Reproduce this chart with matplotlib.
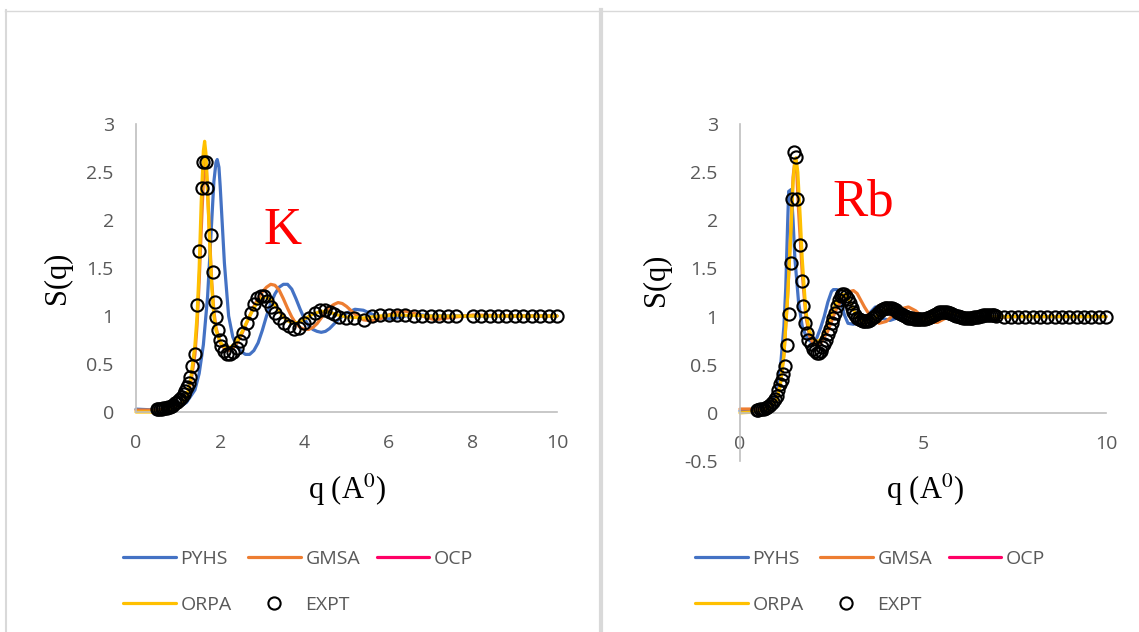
import matplotlib.pyplot as plt
from matplotlib.lines import Line2D
from matplotlib.ticker import FormatStrFormatter

plt.rcParams['font.family'] = ['Open Sans', 'DejaVu Sans']
plt.rcParams['mathtext.fontset'] = 'stix'

# ---- K panel data ----
k_pyhs_q = [0, 0.5, 1.0, 1.2, 1.4, 1.5, 1.6, 1.7, 1.75, 1.8, 1.85, 1.9, 1.93, 1.97, 2.0, 2.05,
            2.1, 2.2, 2.3, 2.4, 2.5, 2.6, 2.7, 2.8, 2.9, 3.0, 3.1, 3.2, 3.3, 3.4, 3.5, 3.6,
            3.7, 3.8, 3.9, 4.0, 4.1, 4.2, 4.3, 4.4, 4.5, 4.6, 4.8, 5.0, 5.2, 5.4, 5.6, 5.8,
            6.0, 6.2, 6.4, 6.6, 7.0, 8.0, 9.0, 10.0]
k_pyhs_s = [0.03, 0.02, 0.04, 0.1, 0.23, 0.4, 0.7, 1.2, 1.6, 2.0, 2.4, 2.6, 2.63, 2.55, 2.35, 1.95,
            1.55, 1.0, 0.78, 0.68, 0.63, 0.6, 0.6, 0.64, 0.72, 0.85, 1.0, 1.13, 1.23, 1.3, 1.33, 1.33,
            1.28, 1.18, 1.07, 0.97, 0.9, 0.86, 0.84, 0.83, 0.84, 0.87, 0.96, 1.03, 1.07, 1.06, 1.02, 0.98,
            0.97, 0.98, 1.0, 1.02, 1.0, 1.0, 1.0, 1.0]

k_gmsa_q = [0, 0.5, 1.0, 1.2, 1.3, 1.4, 1.45, 1.5, 1.55, 1.6, 1.63, 1.67, 1.7, 1.75, 1.8, 1.85,
            1.9, 2.0, 2.1, 2.2, 2.3, 2.4, 2.5, 2.6, 2.7, 2.8, 2.9, 3.0, 3.1, 3.2, 3.3, 3.4,
            3.5, 3.6, 3.7, 3.8, 3.9, 4.0, 4.1, 4.2, 4.3, 4.4, 4.5, 4.6, 4.7, 4.8, 4.9, 5.0,
            5.2, 5.4, 5.6, 5.8, 6.0, 6.2, 6.4, 6.6, 6.8, 7.1, 7.4, 8.0, 9.0, 10.0]
k_gmsa_s = [0.02, 0.02, 0.05, 0.15, 0.3, 0.6, 0.9, 1.35, 1.9, 2.4, 2.62, 2.55, 2.3, 1.8, 1.35, 1.05,
            0.88, 0.72, 0.66, 0.64, 0.66, 0.72, 0.8, 0.9, 1.0, 1.1, 1.18, 1.25, 1.3, 1.33, 1.32, 1.27,
            1.18, 1.08, 0.99, 0.92, 0.88, 0.86, 0.86, 0.88, 0.92, 0.98, 1.04, 1.09, 1.12, 1.14, 1.13, 1.1,
            1.02, 0.96, 0.95, 0.97, 1.01, 1.04, 1.05, 1.03, 1.0, 0.96, 0.98, 1.01, 1.0, 1.0]

k_ocp_q = []
k_ocp_s = []

k_orpa_q = [0, 0.5, 1.0, 1.2, 1.3, 1.4, 1.45, 1.5, 1.55, 1.6, 1.63, 1.66, 1.7, 1.75, 1.8, 1.85,
            1.9, 2.0, 2.1, 2.2, 2.3, 2.4, 2.5, 2.6, 2.7, 2.8, 2.9, 3.0, 3.1, 3.2, 3.3, 3.4,
            3.5, 3.6, 3.7, 3.8, 3.9, 4.0, 4.2, 4.4, 4.6, 4.8, 5.0, 5.4, 5.8, 6.2, 7.0, 8.0, 10.0]
k_orpa_s = [0.0, 0.0, 0.04, 0.15, 0.35, 0.7, 1.0, 1.5, 2.2, 2.72, 2.82, 2.7, 2.3, 1.75, 1.3, 1.0,
            0.85, 0.73, 0.68, 0.67, 0.69, 0.74, 0.82, 0.91, 1.0, 1.08, 1.15, 1.19, 1.2, 1.17, 1.11, 1.05,
            0.99, 0.95, 0.93, 0.93, 0.94, 0.97, 1.02, 1.05, 1.04, 1.01, 0.99, 0.98, 1.0, 1.01, 1.0, 1.0, 1.0]

k_expt_q = [0.49, 0.53, 0.57, 0.61, 0.65, 0.69, 0.73, 0.77, 0.81, 0.85, 0.89, 0.93, 0.97, 1.01,
            1.05, 1.09, 1.13, 1.17, 1.21, 1.25, 1.29, 1.34, 1.40, 1.45, 1.50, 1.56, 1.60, 1.66,
            1.69, 1.77, 1.83, 1.87, 1.91, 1.95, 1.99, 2.03, 2.09, 2.15, 2.23, 2.31, 2.39, 2.47,
            2.55, 2.64, 2.72, 2.80, 2.88, 2.96, 3.04, 3.12, 3.20, 3.30, 3.40, 3.52, 3.64, 3.76,
            3.88, 4.00, 4.12, 4.24, 4.36, 4.48, 4.60, 4.71, 4.83, 4.99, 5.19, 5.42, 5.6, 5.8,
            6.0, 6.2, 6.4, 6.6, 6.8, 7.0, 7.2, 7.4, 7.6, 8.0, 8.2, 8.4, 8.6, 8.8, 9.0, 9.2,
            9.4, 9.6, 9.8, 10.0]
k_expt_s = [0.03, 0.03, 0.03, 0.035, 0.04, 0.04, 0.045, 0.05, 0.055, 0.065, 0.075, 0.09, 0.1, 0.12,
            0.14, 0.16, 0.19, 0.22, 0.26, 0.3, 0.36, 0.48, 0.60, 1.11, 1.68, 2.33, 2.60, 2.60,
            2.33, 1.84, 1.46, 1.15, 0.99, 0.85, 0.75, 0.69, 0.64, 0.60, 0.60, 0.62, 0.67, 0.74,
            0.82, 0.93, 1.03, 1.13, 1.19, 1.21, 1.21, 1.16, 1.09, 1.03, 0.98, 0.93, 0.90, 0.86,
            0.88, 0.93, 0.98, 1.03, 1.06, 1.06, 1.04, 1.02, 0.99, 0.98, 0.98, 0.96, 1.0, 1.01,
            1.01, 1.01, 1.01, 1.0, 1.0, 1.0, 1.0, 1.0, 1.0, 1.0, 1.0, 1.0, 1.0, 1.0, 1.0, 1.0,
            1.0, 1.0, 1.0, 1.0]

# ---- Rb panel data ----
rb_pyhs_q = [0, 0.5, 0.8, 1.0, 1.1, 1.2, 1.25, 1.3, 1.33, 1.4, 1.45, 1.5, 1.6, 1.7, 1.8, 1.9,
             2.0, 2.1, 2.2, 2.3, 2.4, 2.5, 2.55, 2.65, 2.75, 2.85, 2.95, 3.1, 3.3, 3.5, 3.7, 3.8,
             3.9, 4.1, 4.4, 4.8, 5.2, 5.6, 6.0, 7.0, 8.0, 10.0]
rb_pyhs_s = [0.02, 0.02, 0.05, 0.2, 0.45, 0.9, 1.3, 1.95, 2.3, 2.32, 2.0, 1.6, 1.15, 0.9, 0.8, 0.75,
             0.73, 0.78, 0.88, 1.0, 1.15, 1.26, 1.28, 1.28, 1.18, 1.02, 0.93, 0.92, 0.95, 1.02, 1.1, 1.05,
             0.98, 0.96, 1.0, 1.03, 0.99, 0.99, 1.01, 1.0, 1.0, 1.0]

rb_gmsa_q = [0, 0.5, 0.8, 1.0, 1.1, 1.2, 1.3, 1.4, 1.45, 1.5, 1.55, 1.6, 1.7, 1.8, 1.9, 2.0,
             2.1, 2.2, 2.4, 2.6, 2.8, 3.0, 3.1, 3.2, 3.4, 3.6, 3.8, 4.0, 4.2, 4.4, 4.6, 4.8,
             5.0, 5.2, 5.4, 5.6, 5.8, 6.0, 6.3, 6.6, 7.0, 7.5, 10.0]
rb_gmsa_s = [0.04, 0.04, 0.06, 0.15, 0.3, 0.6, 1.2, 2.0, 2.45, 2.62, 2.5, 2.1, 1.45, 1.0, 0.8, 0.72,
             0.7, 0.72, 0.85, 1.05, 1.2, 1.26, 1.27, 1.24, 1.1, 0.98, 0.93, 0.95, 1.02, 1.08, 1.1, 1.06,
             0.99, 0.94, 0.94, 0.98, 1.03, 1.05, 1.02, 0.98, 0.99, 1.0, 1.0]

rb_ocp_q = []
rb_ocp_s = []

rb_orpa_q = [0, 0.5, 0.8, 1.0, 1.1, 1.2, 1.3, 1.4, 1.45, 1.5, 1.53, 1.58, 1.65, 1.7, 1.8, 1.9,
             2.0, 2.1, 2.2, 2.3, 2.4, 2.5, 2.6, 2.7, 2.8, 2.9, 3.0, 3.1, 3.2, 3.3, 3.4, 3.5,
             3.7, 3.9, 4.1, 4.3, 4.5, 4.7, 4.9, 5.1, 5.4, 5.7, 6.0, 6.4, 7.0, 8.0, 10.0]
rb_orpa_s = [0.0, 0.01, 0.04, 0.13, 0.28, 0.6, 1.2, 1.95, 2.4, 2.62, 2.65, 2.5, 2.0, 1.6, 1.05, 0.85,
             0.77, 0.74, 0.76, 0.83, 0.93, 1.03, 1.12, 1.19, 1.23, 1.22, 1.16, 1.07, 1.0, 0.95, 0.93, 0.94,
             0.99, 1.06, 1.09, 1.07, 1.02, 0.98, 0.96, 0.98, 1.02, 1.04, 1.02, 0.99, 1.0, 1.0, 1.0]

rb_expt_q = [0.46, 0.5, 0.55, 0.6, 0.65, 0.7, 0.75, 0.8, 0.85, 0.9, 0.95, 1.0, 1.05, 1.1, 1.14,
             1.18, 1.23, 1.29, 1.33, 1.38, 1.43, 1.48, 1.53, 1.57, 1.63, 1.69, 1.73, 1.77, 1.82,
             1.87, 1.93,
             2.0, 2.05, 2.1, 2.15, 2.2, 2.25, 2.3, 2.35, 2.4, 2.45, 2.5, 2.55, 2.6, 2.65, 2.7,
             2.75, 2.8, 2.85, 2.9, 2.95,
             3.0, 3.05, 3.1, 3.15, 3.2, 3.25, 3.3, 3.35, 3.4, 3.45, 3.5, 3.55, 3.6, 3.65, 3.7,
             3.75, 3.8, 3.85, 3.9, 3.95, 4.0, 4.05, 4.1, 4.15, 4.2, 4.25, 4.3, 4.35, 4.4, 4.45,
             4.5, 4.55, 4.6, 4.65, 4.7, 4.75, 4.8, 4.85, 4.9, 4.95, 5.0, 5.05, 5.1, 5.15, 5.2,
             5.25, 5.3, 5.35, 5.4, 5.45, 5.5, 5.55, 5.6, 5.65, 5.7, 5.75, 5.8, 5.85, 5.9, 5.95,
             6.0, 6.05, 6.1, 6.15, 6.2, 6.25, 6.3, 6.35, 6.4, 6.45, 6.5, 6.55, 6.6, 6.65, 6.7,
             6.75, 6.8, 6.85, 6.9, 6.95, 7.0,
             7.2, 7.4, 7.6, 7.8, 8.0, 8.2, 8.4, 8.6, 8.8, 9.0, 9.2, 9.4, 9.6, 9.8, 10.0]
rb_expt_s = [0.03, 0.03, 0.035, 0.04, 0.04, 0.05, 0.06, 0.07, 0.09, 0.11, 0.14, 0.18, 0.24, 0.3, 0.34,
             0.4, 0.49, 0.70, 1.03, 1.56, 2.22, 2.71, 2.66, 2.22, 1.74, 1.37, 1.11, 0.93, 0.83,
             0.76, 0.71,
             0.66, 0.64, 0.62, 0.62, 0.64, 0.68, 0.72, 0.76, 0.82, 0.87, 0.93, 0.99, 1.04, 1.11, 1.17,
             1.21, 1.23, 1.23, 1.21, 1.18,
             1.14, 1.09, 1.05, 1.02, 0.99, 0.97, 0.96, 0.955, 0.95, 0.95, 0.955, 0.965, 0.98, 0.995, 1.01,
             1.03, 1.05, 1.065, 1.08, 1.085, 1.09, 1.09, 1.09, 1.085, 1.08, 1.065, 1.05, 1.04, 1.03, 1.02,
             1.01, 1.0, 0.99, 0.985, 0.98, 0.975, 0.97, 0.97, 0.97, 0.97, 0.97, 0.975, 0.98, 0.99, 1.0,
             1.01, 1.02, 1.03, 1.04, 1.045, 1.05, 1.05, 1.05, 1.045, 1.04, 1.035, 1.03, 1.02, 1.01, 1.005,
             1.0, 0.995, 0.99, 0.99, 0.99, 0.99, 0.99, 0.99, 0.995, 0.998, 1.0, 1.005, 1.01, 1.012, 1.015,
             1.018, 1.02, 1.018, 1.015, 1.012, 1.01,
             1.0, 1.0, 1.0, 1.0, 1.0, 1.0, 1.0, 1.0, 1.0, 1.0, 1.0, 1.0, 1.0, 1.0, 1.0]

BLUE = '#4472C4'
ORANGE = '#ED7D31'
PINK = '#FF0066'
YELLOW = '#FFC000'
GREY = '#595959'

W, H = 1139, 632
fig = plt.figure(figsize=(W / 100, H / 100), dpi=100)


def px_axes(x0, x1, y_top, y_bot):
    return fig.add_axes([x0 / W, 1 - y_bot / H, (x1 - x0) / W, (y_bot - y_top) / H])


def draw_panel(ax, series, expt_q, expt_s):
    handles = []
    for q, s, c in series:
        h, = ax.plot(q, s, color=c, lw=2.3, clip_on=False, solid_capstyle='round')
        handles.append(h)
    h, = ax.plot(expt_q, expt_s, ls='none', marker='o', ms=8.8, mfc='none', mec='black',
                 mew=1.5, clip_on=False, zorder=5)
    handles.append(h)
    for side in ['top', 'right']:
        ax.spines[side].set_visible(False)
    for side in ['left', 'bottom']:
        ax.spines[side].set_color('#BFBFBF')
        ax.spines[side].set_linewidth(1.2)
    ax.tick_params(length=0, labelsize=14, labelcolor=GREY)
    ax.tick_params(axis='x', pad=16)
    ax.tick_params(axis='y', pad=16)
    ax.yaxis.set_major_formatter(FormatStrFormatter('%g'))
    ax.xaxis.set_major_formatter(FormatStrFormatter('%g'))
    return handles


def add_legend(ax, handles, x_left):
    p, g, o, r, e = handles
    ax.legend([p, r, g, e, o], ['PYHS', 'ORPA', 'GMSA', 'EXPT', 'OCP'], ncol=3,
              frameon=False, fontsize=14, labelcolor=GREY, handlelength=2.7,
              handletextpad=0.25, columnspacing=0.85, labelspacing=1.42,
              loc='upper left', bbox_to_anchor=(x_left / W, 1 - 550 / H),
              bbox_transform=fig.transFigure, borderpad=0, borderaxespad=0)


# left panel: K
ax1 = px_axes(136, 557, 124, 412)
h1 = draw_panel(ax1, [(k_pyhs_q, k_pyhs_s, BLUE), (k_gmsa_q, k_gmsa_s, ORANGE),
                      (k_ocp_q, k_ocp_s, PINK), (k_orpa_q, k_orpa_s, YELLOW)],
                k_expt_q, k_expt_s)
ax1.set_xlim(0, 10)
ax1.set_ylim(0, 3)
ax1.set_xticks([0, 2, 4, 6, 8, 10])
ax1.set_yticks([0, 0.5, 1, 1.5, 2, 2.5, 3])
add_legend(ax1, h1, 123)

# right panel: Rb
ax2 = px_axes(740, 1106, 124, 461)
h2 = draw_panel(ax2, [(rb_pyhs_q, rb_pyhs_s, BLUE), (rb_gmsa_q, rb_gmsa_s, ORANGE),
                      (rb_ocp_q, rb_ocp_s, PINK), (rb_orpa_q, rb_orpa_s, YELLOW)],
                rb_expt_q, rb_expt_s)
ax2.set_xlim(0, 10)
ax2.set_ylim(-0.5, 3)
ax2.spines['bottom'].set_position(('data', 0))
ax2.set_xticks([0, 5, 10])
ax2.set_yticks([-0.5, 0, 0.5, 1, 1.5, 2, 2.5, 3])
add_legend(ax2, h2, 695)

# axis titles and element labels
serif = ['Liberation Serif', 'DejaVu Serif']
for x, y in [(57, 278), (656, 280)]:
    fig.text(x / W, 1 - y / H, 'S(q)', family=serif, fontsize=22, rotation=90,
             ha='center', va='center')
for x in [347, 925]:
    fig.text(x / W, 1 - 490 / H, r'q (A$^0$)', family=serif, fontsize=22,
             ha='center', va='center')
fig.text(283 / W, 1 - 231 / H, 'K', family=serif, fontsize=38, color='red',
         ha='center', va='center')
fig.text(863 / W, 1 - 203 / H, 'Rb', family=serif, fontsize=38, color='red',
         ha='center', va='center')

# panel borders
fig.add_artist(Line2D([5 / W, 1], [1 - 10.5 / H] * 2, transform=fig.transFigure,
                      color='#D9D9D9', lw=1.0))
fig.add_artist(Line2D([6 / W] * 2, [0, 1 - 10 / H], transform=fig.transFigure,
                      color='#D9D9D9', lw=1.5))
fig.add_artist(Line2D([601 / W] * 2, [0, 1 - 10 / H], transform=fig.transFigure,
                      color='#D9D9D9', lw=3.0))

fig.savefig('out.png', dpi=100)
